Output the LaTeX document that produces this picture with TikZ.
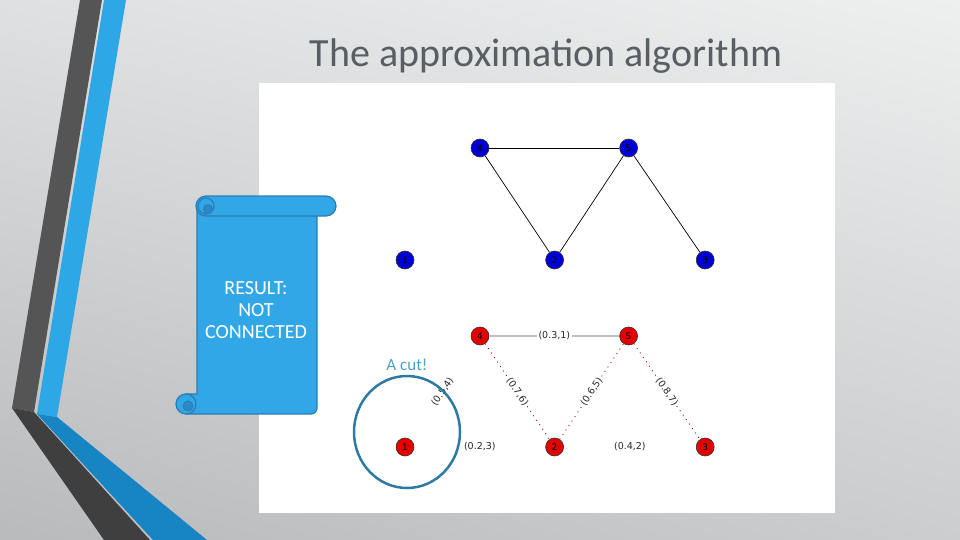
\documentclass[tikz,border=0pt]{standalone}
\usepackage{fontspec}
\setmainfont{Carlito}
\newfontfamily\plotfont{DejaVu Sans}
\usetikzlibrary{positioning,shadings}

\definecolor{slideUL}{HTML}{DFE0E1}
\definecolor{slideUR}{HTML}{EEEFEF}
\definecolor{slideLL}{HTML}{B8BABC}
\definecolor{slideLR}{HTML}{CBCDCE}
\definecolor{stripedark}{HTML}{555555}
\definecolor{stripedarklow}{HTML}{3F3F3F}
\definecolor{stripeblue}{HTML}{2DA7E6}
\definecolor{stripebluelow}{HTML}{1784C4}
\definecolor{titlegray}{HTML}{595E62}
\definecolor{scrollfill}{HTML}{32A7E7}
\definecolor{scrolledge}{HTML}{2A7DB4}
\definecolor{scrollcurl}{HTML}{2A88C6}
\definecolor{cutblue}{HTML}{2E7AA3}
\definecolor{cuttext}{HTML}{4AA2C8}
\definecolor{nodeblue}{HTML}{0000D4}
\definecolor{nodered}{HTML}{E30000}

\begin{document}
\begin{tikzpicture}[
    x=1pt, y=-1pt,
    bnode/.style={circle, draw=black!80, line width=0.6pt, fill=nodeblue, minimum size=18pt, inner sep=0pt, font=\plotfont\fontsize{9}{9}\selectfont},
    rnode/.style={bnode, fill=nodered},
    edge/.style={draw=black, line width=0.7pt},
    strongedge/.style={draw=black!25, line width=1.4pt},
    weakedge/.style={draw=nodered!75!black, line width=0.9pt, dash pattern=on 0.9pt off 4.5pt},
    wlabel/.style={font=\plotfont\fontsize{9.5}{9.5}\selectfont, fill=white, inner sep=1.5pt, text=black!85},
    scroll/.style={fill=scrollfill, draw=scrolledge, line width=1.2pt}
]
\useasboundingbox (0,0) rectangle (960,540);

% Slide background and the two bent stripes on the left.
\shade[upper left=slideUL, upper right=slideUR, lower left=slideLL, lower right=slideLR] (0,0) rectangle (960,540);
\fill[stripedark] (80,0) -- (102,0) -- (34,412) -- (12,408) -- cycle;
\fill[stripedarklow] (12,408) -- (34,412) -- (150,540) -- (104,540) -- cycle;
\fill[stripeblue] (104,0) -- (126,0) -- (57,417) -- (37,414) -- cycle;
\fill[stripebluelow] (37,414) -- (57,417) -- (207,540) -- (153,540) -- cycle;

\node[anchor=base, text=titlegray, font=\fontsize{40}{40}\selectfont] (title) at (546,67) {The approximation algorithm};

% White plot panel.
\fill[white] (259,83) rectangle (835,513);

% Original graph (top).
\node[bnode] (b4) at (480,148) {4};
\node[bnode, right=130pt of b4] (b5) {5};
\node[bnode] (b1) at (405,260) {1};
\node[bnode, right=131pt of b1] (b2) {2};
\node[bnode, right=132pt of b2] (b3) {3};

\draw[edge] (b4) -- (b5);
\draw[edge] (b4) -- (b2);
\draw[edge] (b5) -- (b2);
\draw[edge] (b5) -- (b3);

% Weighted graph (bottom).
\node[rnode] (r4) at (480,336) {4};
\node[rnode, right=130pt of r4] (r5) {5};
\node[rnode] (r1) at (405,447) {1};
\node[rnode, right=131pt of r1] (r2) {2};
\node[rnode, right=132pt of r2] (r3) {3};

\draw[strongedge] (r4) -- node[wlabel] {(0.3,1)} (r5);
\draw[weakedge] (r4) -- node[wlabel, sloped] {(0.7,6)} (r2);
\draw[weakedge] (r2) -- node[wlabel, sloped] {(0.6,5)} (r5);
\draw[weakedge] (r5) -- node[wlabel, sloped] {(0.8,7)} (r3);
\path (r1) -- node[wlabel, sloped] {(0.5,4)} (r4);
\path (r1) -- node[wlabel] {(0.2,3)} (r2);
\path (r2) -- node[wlabel] {(0.4,2)} (r3);

% The cut around node 1.
\draw[cutblue, line width=2.5pt] (407,432) ellipse [x radius=53, y radius=56];
\node[text=cuttext, font=\fontsize{17}{17}\selectfont] (cut) at (407,365) {A cut!};

% Scroll with the result.
\filldraw[scroll] (197,210) -- (317,210) -- (317,408) [rounded corners=6pt] -- (317,414) [sharp corners] -- (186,414) -- (186,394) -- (197,394) -- cycle;
\filldraw[scroll] (186,404) circle[radius=10];
\filldraw[fill=scrollcurl, draw=scrolledge, line width=0.8pt] (188,406) circle[radius=5];
\filldraw[scroll, rounded corners=10pt] (196,196) rectangle (336,216);
\filldraw[scroll] (206,206) circle[radius=8];
\filldraw[fill=scrollcurl, draw=scrolledge, line width=0.8pt] (208,209) circle[radius=4.5];
\node[text=white, align=center, font=\fontsize{20}{22}\selectfont] (result) at (256,310) {RESULT:\\NOT\\CONNECTED};

\end{tikzpicture}
\end{document}
